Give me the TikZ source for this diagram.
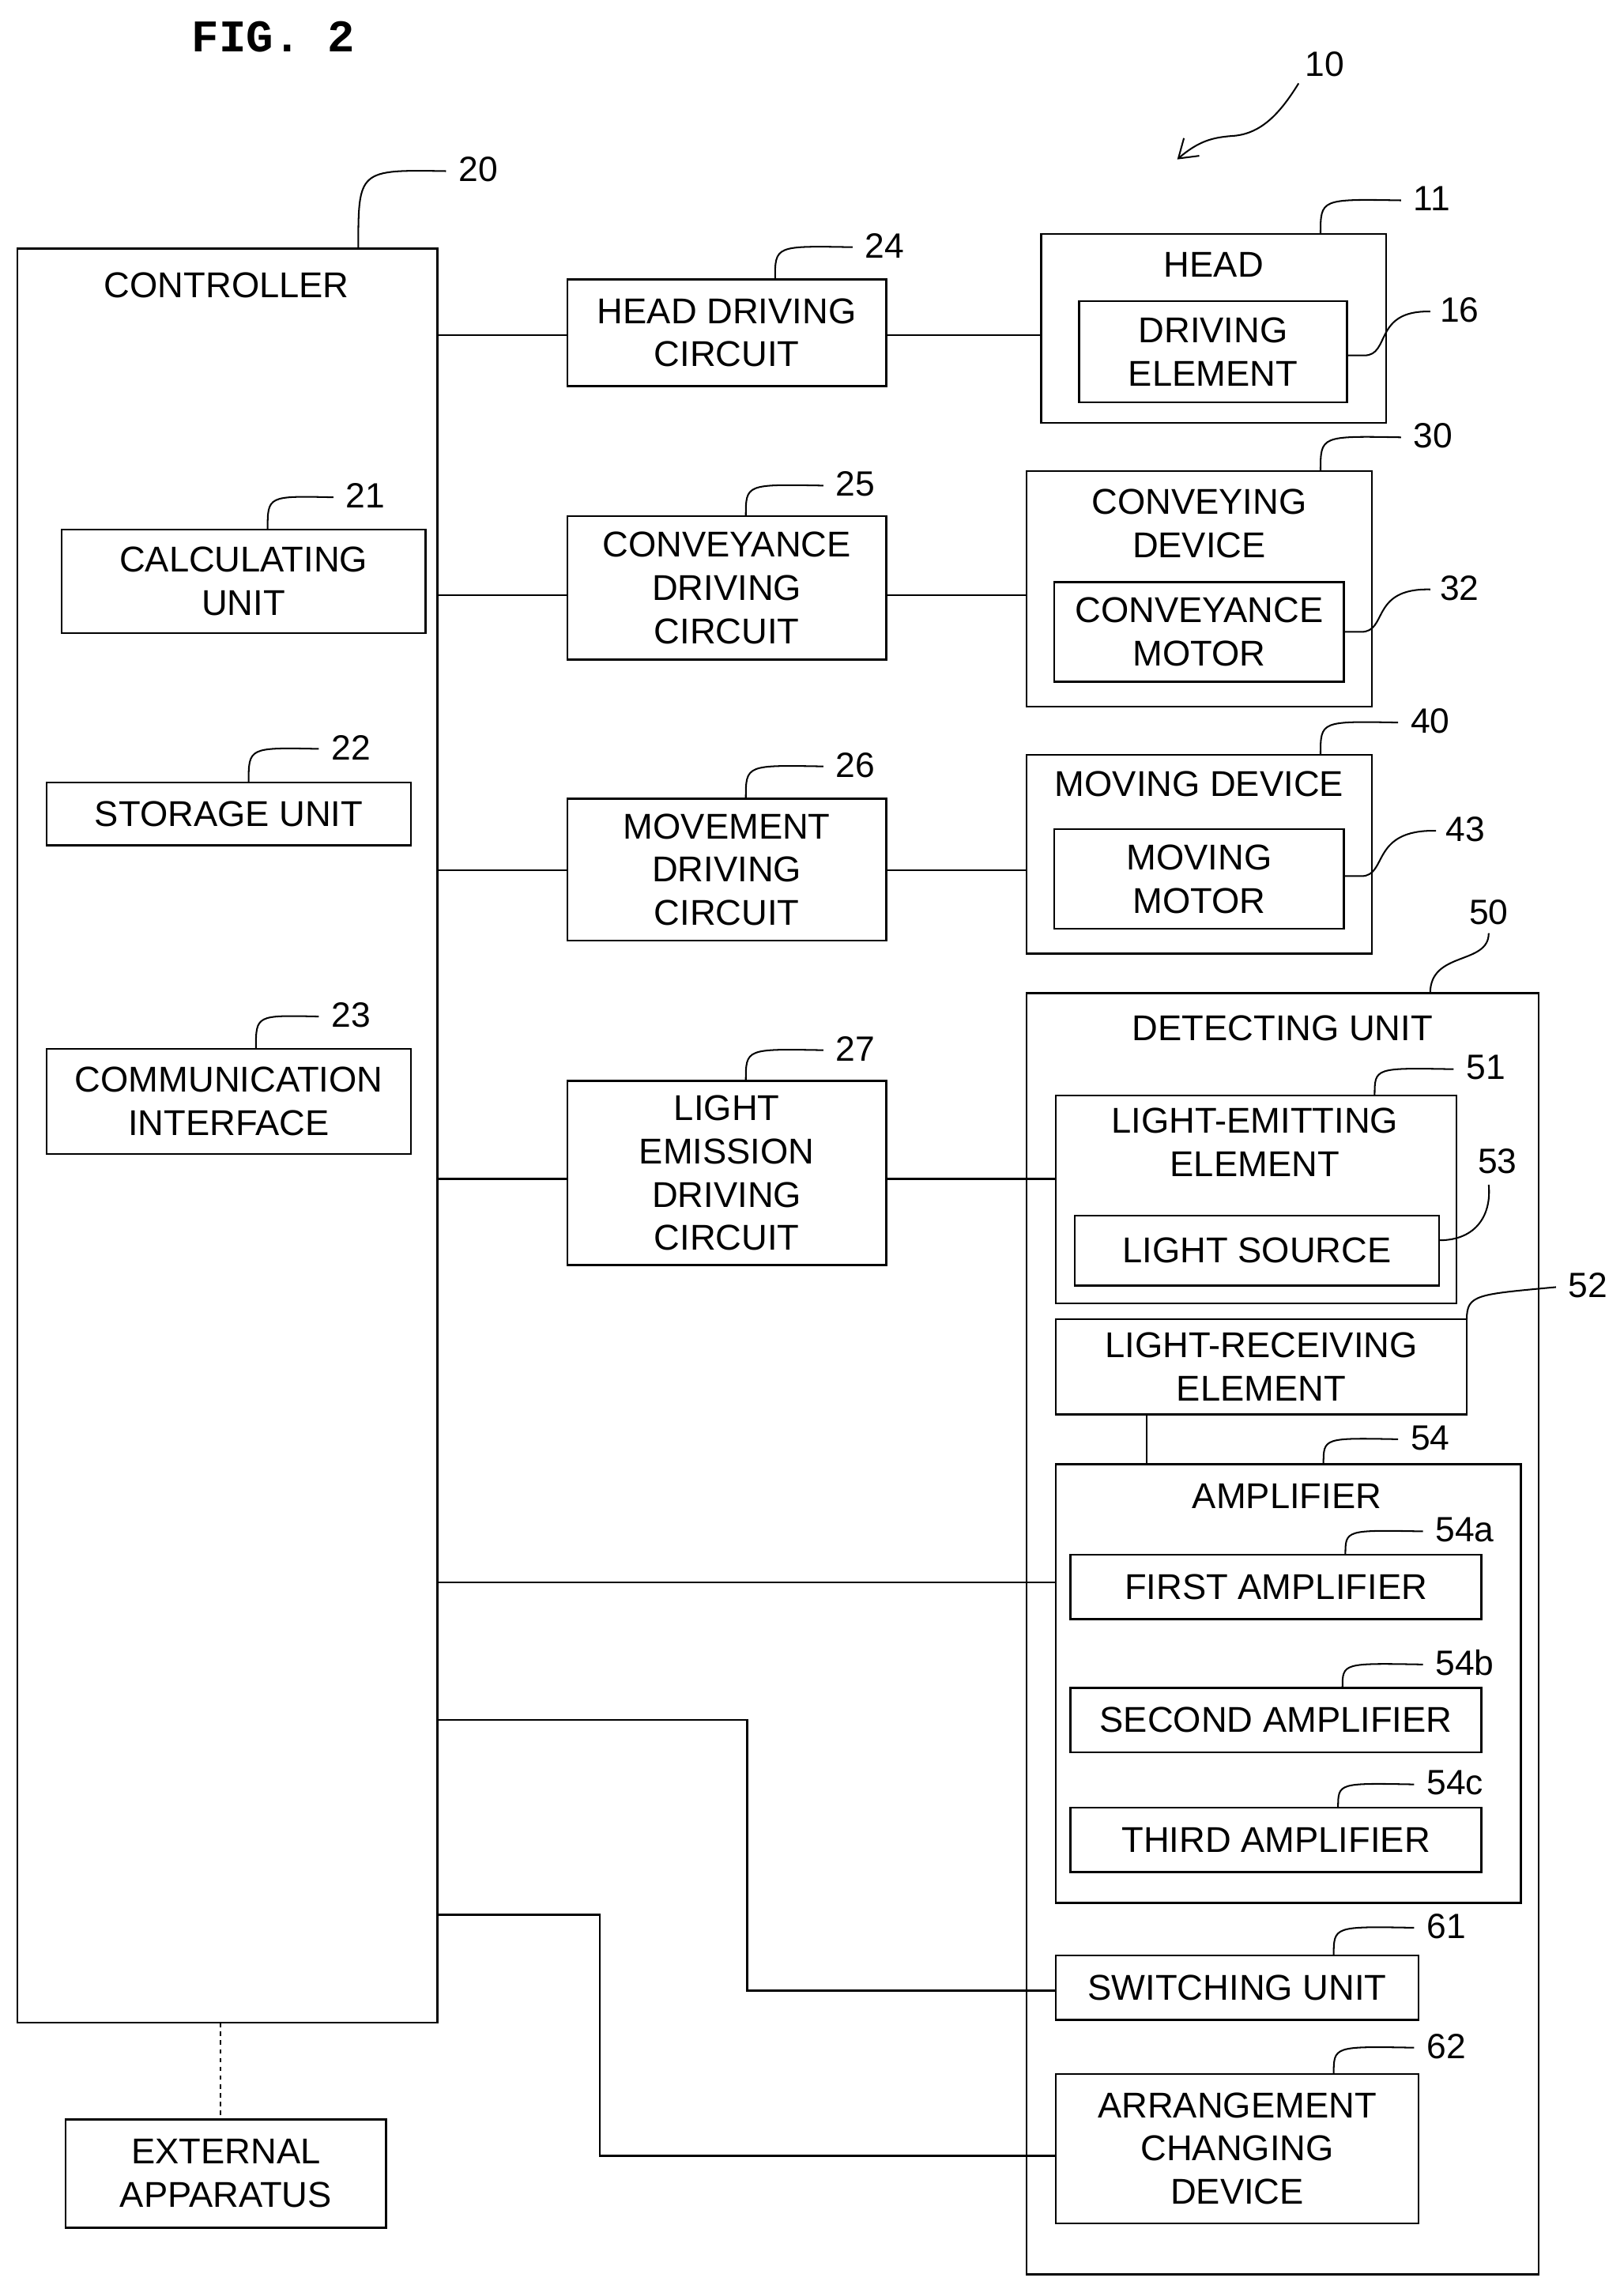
\documentclass[tikz,border=0pt]{standalone}
\usepackage{fontspec}
\usetikzlibrary{arrows.meta}
\setmainfont{Liberation Sans}
\newfontfamily\monob{Liberation Mono}
\begin{document}
\begin{tikzpicture}[x=1pt,y=-1pt,line width=1.3pt,
  box/.style={draw,rectangle,inner sep=0pt,align=center,font=\fontsize{24.5}{29.5}\selectfont},
  lbl/.style={inner sep=0pt,font=\fontsize{24.5}{29.5}\selectfont,align=center},
  num/.style={inner sep=0pt,font=\fontsize{24}{28}\selectfont}]
\useasboundingbox (0,0) rectangle (1110,1565);
\newcommand{\bx}[6]{\node[box,minimum width={#4-#2},minimum height={#5-#3}] (#1) at ({(#2+#4)/2},{(#3+#5)/2}) {#6};}
\newcommand{\lu}[5]{\coordinate (#1s) at (#2,#3); \node[num,anchor=west] (#1) at (#4,#5) {#1};
  \draw[line width=1.1pt] (#1s) .. controls (#2,#5) and (#2,#5) .. ({#4-8},{#5+1});}
\newcommand{\lr}[5]{\coordinate (#1s) at (#2,#3); \node[num,anchor=west] (#1) at (#4,#5) {#1};
  \draw[line width=1.1pt] (#1s) -- ({#2+12},#3) .. controls ({#2+30},#3) and ({#2+18},#5) .. ({#4-6},{#5+1});}
\node[inner sep=0pt,font=\monob\bfseries\fontsize{31}{31}\selectfont] (fig) at (187,25) {FIG. 2};
\bx{ctrl}{12}{170}{299}{1383}{}
\node[lbl] (ctrlt) at (155,195) {CONTROLLER};
\lu{20}{245}{170}{313}{116}
\bx{calc}{42}{362}{291}{433}{CALCULATING\\UNIT}
\lu{21}{183}{362}{236}{339}
\bx{stor}{32}{535}{281}{578}{STORAGE UNIT}
\lu{22}{170}{535}{226}{511}
\bx{comm}{32}{717}{281}{789}{COMMUNICATION\\INTERFACE}
\lu{23}{175}{717}{226}{694}
\bx{ext}{45}{1449}{264}{1523}{EXTERNAL\\APPARATUS}
\draw[dashed,line width=1.1pt] (151,1383) -- (ext.north -| 151,0);
\bx{hd}{388}{191}{606}{264}{HEAD DRIVING\\CIRCUIT}
\lu{24}{530}{191}{591}{168}
\bx{cd}{388}{353}{606}{451}{CONVEYANCE\\DRIVING\\CIRCUIT}
\lu{25}{510}{353}{571}{331}
\bx{md}{388}{546}{606}{643}{MOVEMENT\\DRIVING\\CIRCUIT}
\lu{26}{510}{546}{571}{523}
\bx{ld}{388}{739}{606}{865}{LIGHT\\EMISSION\\DRIVING\\CIRCUIT}
\lu{27}{510}{739}{571}{717}
\bx{head}{712}{160}{948}{289}{}
\node[lbl] (headt) at (830,181) {HEAD};
\bx{de}{738}{206}{921}{275}{DRIVING\\ELEMENT}
\lu{11}{903}{160}{966}{136}
\lr{16}{921}{243}{984}{212}
\bx{conv}{702}{322}{938}{483}{}
\node[lbl] (convt) at (820,358) {CONVEYING\\DEVICE};
\bx{cm}{721}{398}{919}{466}{CONVEYANCE\\MOTOR}
\lu{30}{903}{322}{966}{298}
\lr{32}{919}{432}{984}{402}
\bx{mov}{702}{516}{938}{652}{}
\node[lbl] (movt) at (820,536) {MOVING DEVICE};
\bx{mm}{721}{567}{919}{635}{MOVING\\MOTOR}
\lu{40}{903}{516}{964}{493}
\lr{43}{919}{599}{988}{567}
\bx{det}{702}{679}{1052}{1555}{}
\node[lbl] (dett) at (877,703) {DETECTING UNIT};
\coordinate (50s) at (978,679); \node[num,anchor=west] (50) at (1004,624) {50};
\draw[line width=1.1pt] (50s) .. controls (978,650) and (1018,660) .. (1018,638);
\bx{lee}{722}{749}{996}{891}{}
\node[lbl] (leet) at (858,781) {LIGHT-EMITTING\\ELEMENT};
\bx{ls}{735}{831}{984}{879}{LIGHT SOURCE}
\lu{51}{940}{749}{1002}{730}
\coordinate (53s) at (984,848); \node[num,anchor=west] (53) at (1010,794) {53};
\draw[line width=1.1pt] (53s) .. controls (1010,848) and (1020,830) .. (1018,810);
\bx{lre}{722}{902}{1003}{967}{LIGHT-RECEIVING\\ELEMENT}
\coordinate (52s) at (1003,902); \node[num,anchor=west] (52) at (1072,879) {52};
\draw[line width=1.1pt] (52s) .. controls (1003,885) and (1010,885) .. (1064,880);
\bx{amp}{722}{1001}{1040}{1301}{}
\node[lbl] (ampt) at (880,1023) {AMPLIFIER};
\draw (784,967) -- (784,1001);
\lu{54}{905}{1001}{964}{983}
\bx{a1}{732}{1063}{1013}{1107}{FIRST AMPLIFIER}
\lu{54a}{920}{1063}{981}{1046}
\bx{a2}{732}{1154}{1013}{1198}{SECOND AMPLIFIER}
\lu{54b}{918}{1154}{981}{1137}
\bx{a3}{732}{1236}{1013}{1280}{THIRD AMPLIFIER}
\lu{54c}{915}{1236}{975}{1219}
\bx{sw}{722}{1337}{970}{1381}{SWITCHING UNIT}
\lu{61}{912}{1337}{975}{1317}
\bx{arr}{722}{1418}{970}{1520}{ARRANGEMENT\\CHANGING\\DEVICE}
\lu{62}{912}{1418}{975}{1399}
\node[num] (10) at (906,44) {10};
\coordinate (10s) at (888,57);
\coordinate (10e) at (805,109);
\draw[line width=1.1pt,-{Straight Barb[length=12pt,width=16pt]}] (10s) .. controls (875,78) and (862,92) .. (842,93) .. controls (830,94) and (820,96) .. (10e);
\draw (ctrl.east |- 0,229) -- (hd.west |- 0,229);
\draw (hd.east |- 0,229) -- (head.west |- 0,229);
\draw (ctrl.east |- 0,407) -- (cd.west |- 0,407);
\draw (cd.east |- 0,407) -- (conv.west |- 0,407);
\draw (ctrl.east |- 0,595) -- (md.west |- 0,595);
\draw (md.east |- 0,595) -- (mov.west |- 0,595);
\draw (ctrl.east |- 0,806) -- (ld.west |- 0,806);
\draw (ld.east |- 0,806) -- (lee.west |- 0,806);
\draw (ctrl.east |- 0,1082) -- (amp.west |- 0,1082);
\draw (ctrl.east |- 0,1176) -- (511,1176) -- (511,1361) -- (sw.west |- 0,1361);
\draw (ctrl.east |- 0,1309) -- (410,1309) -- (410,1474) -- (arr.west |- 0,1474);
\end{tikzpicture}
\end{document}
